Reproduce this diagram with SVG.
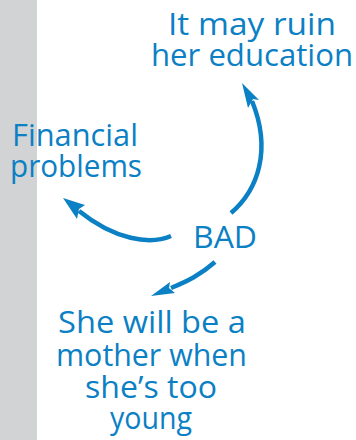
<svg xmlns="http://www.w3.org/2000/svg" width="356" height="440" viewBox="0 0 356 440">
<style>
.t{font-family:"Open Sans","DejaVu Sans",sans-serif;font-size:31px;fill:#0b80c4;text-anchor:middle}
.c{fill:none;stroke:#0b80c4;stroke-width:4.5;stroke-linecap:butt}
.h{fill:#0b80c4}
</style>
<rect x="0" y="0" width="356" height="440" fill="#ffffff"/>
<rect x="0" y="0" width="37" height="440" fill="#d1d3d4"/>
<g id="node-education">
<text class="t" x="252" y="35" textLength="168" lengthAdjust="spacingAndGlyphs">It may ruin</text>
<text class="t" x="252" y="66" textLength="202" lengthAdjust="spacingAndGlyphs">her education</text>
</g>
<g id="node-financial">
<text class="t" x="75" y="146" textLength="126" lengthAdjust="spacingAndGlyphs">Financial</text>
<text class="t" x="76" y="177" textLength="132" lengthAdjust="spacingAndGlyphs">problems</text>
</g>
<g id="node-bad">
<text class="t" x="225" y="248" textLength="64" lengthAdjust="spacingAndGlyphs">BAD</text>
</g>
<g id="node-mother">
<text class="t" x="152" y="333" textLength="188" lengthAdjust="spacingAndGlyphs">She will be a</text>
<text class="t" x="151.5" y="366" textLength="191" lengthAdjust="spacingAndGlyphs">mother when</text>
<text class="t" x="151" y="398" textLength="132" lengthAdjust="spacingAndGlyphs">she’s too</text>
<text class="t" x="151" y="429" textLength="82" lengthAdjust="spacingAndGlyphs">young</text>
</g>
<g id="connectors">
<path class="c" d="M231 213 C258 190 272 150 252 101"/>
<path class="h" d="M242 83 L259 100 L253 99 L248 108 Z"/>
<path class="c" d="M171 236 C150 245 115 240 79 211"/>
<path class="h" d="M63 198 L85 205 L79 209 L77 219 Z"/>
<path class="c" d="M215 262 C200 275 188 281 171 288"/>
<path class="h" d="M151 296 L170 282 L169 288 L175 293 Z"/>
</g>
</svg>
